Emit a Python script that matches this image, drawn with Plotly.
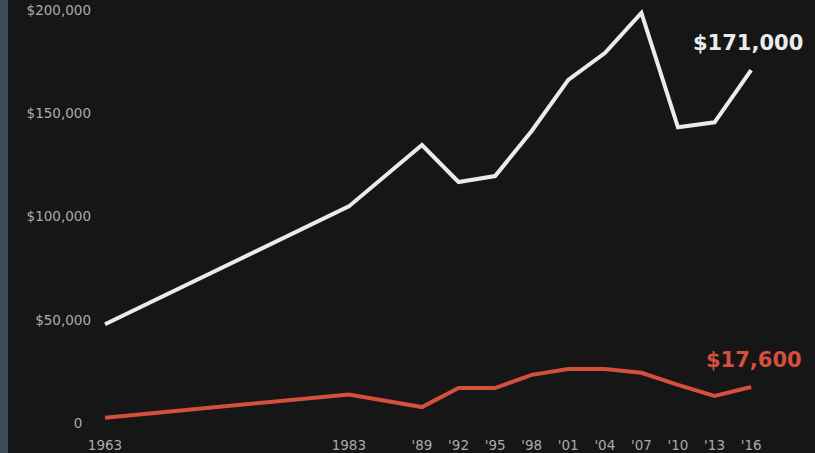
import plotly.graph_objects as go

years = [1963, 1983, 1989, 1992, 1995, 1998, 2001, 2004, 2007, 2010, 2013, 2016]
white_wealth = [48000, 105000, 134700, 116800, 119700, 141500, 166200, 179200, 198600, 143300, 145700, 171000]
black_wealth = [2700, 14000, 7900, 17100, 17100, 23500, 26300, 26300, 24500, 18600, 13300, 17600]

x_tickvals = [1963, 1983, 1989, 1992, 1995, 1998, 2001, 2004, 2007, 2010, 2013, 2016]
x_ticktext = ["1963", "1983", "'89", "'92", "'95", "'98", "'01", "'04", "'07", "'10", "'13", "'16"]
y_tickvals = [0, 50000, 100000, 150000, 200000]
y_ticktext = ["0\u00a0\u00a0", "$50,000", "$100,000", "$150,000", "$200,000"]

white_label = "$171,000"
black_label = "$17,600"

WHITE = "#ebebeb"
RED = "#d4503d"
BG = "#161616"
LABEL = "#ababab"

fig = go.Figure()
fig.add_trace(go.Scatter(x=years, y=white_wealth, mode="lines",
                         line=dict(color=WHITE, width=4), hoverinfo="skip", showlegend=False))
fig.add_trace(go.Scatter(x=years, y=black_wealth, mode="lines",
                         line=dict(color=RED, width=4), hoverinfo="skip", showlegend=False))

fig.add_annotation(x=years[-1], y=white_wealth[-1], xref="x", yref="y", text=white_label,
                   showarrow=False, xshift=-3, yshift=27,
                   font=dict(family="DejaVu Sans", size=21, color=WHITE, weight="bold"))
fig.add_annotation(x=years[-1], y=black_wealth[-1], xref="x", yref="y", text=black_label,
                   showarrow=False, xshift=3, yshift=27,
                   font=dict(family="DejaVu Sans", size=21, color=RED, weight="bold"))

# left slate strip
fig.add_shape(type="rect", xref="paper", yref="paper",
              x0=-96/719, x1=(8-96)/719, y0=-18/435, y1=1.0,
              fillcolor="#3c4c56", line=dict(width=0), layer="above")

fig.update_layout(
    width=815, height=453,
    margin=dict(l=96, r=0, t=0, b=18),
    paper_bgcolor=BG, plot_bgcolor=BG,
    font=dict(family="DejaVu Sans", size=13.5, color=LABEL),
    xaxis=dict(range=[1962.26, 2021.24], tickvals=x_tickvals, ticktext=x_ticktext,
               showgrid=False, zeroline=False, showline=False, ticks="",
               tickfont=dict(size=13.5, color=LABEL)),
    yaxis=dict(range=[-5614, 204887], tickvals=y_tickvals, ticktext=y_ticktext,
               showgrid=False, zeroline=False, showline=False, ticks="",
               ticklabelstandoff=4,
               tickfont=dict(size=13.5, color=LABEL)),
)

fig.write_html("out.html", config={"displayModeBar": False},
               post_script="document.body.style.margin='0';document.body.style.overflow='hidden';")
